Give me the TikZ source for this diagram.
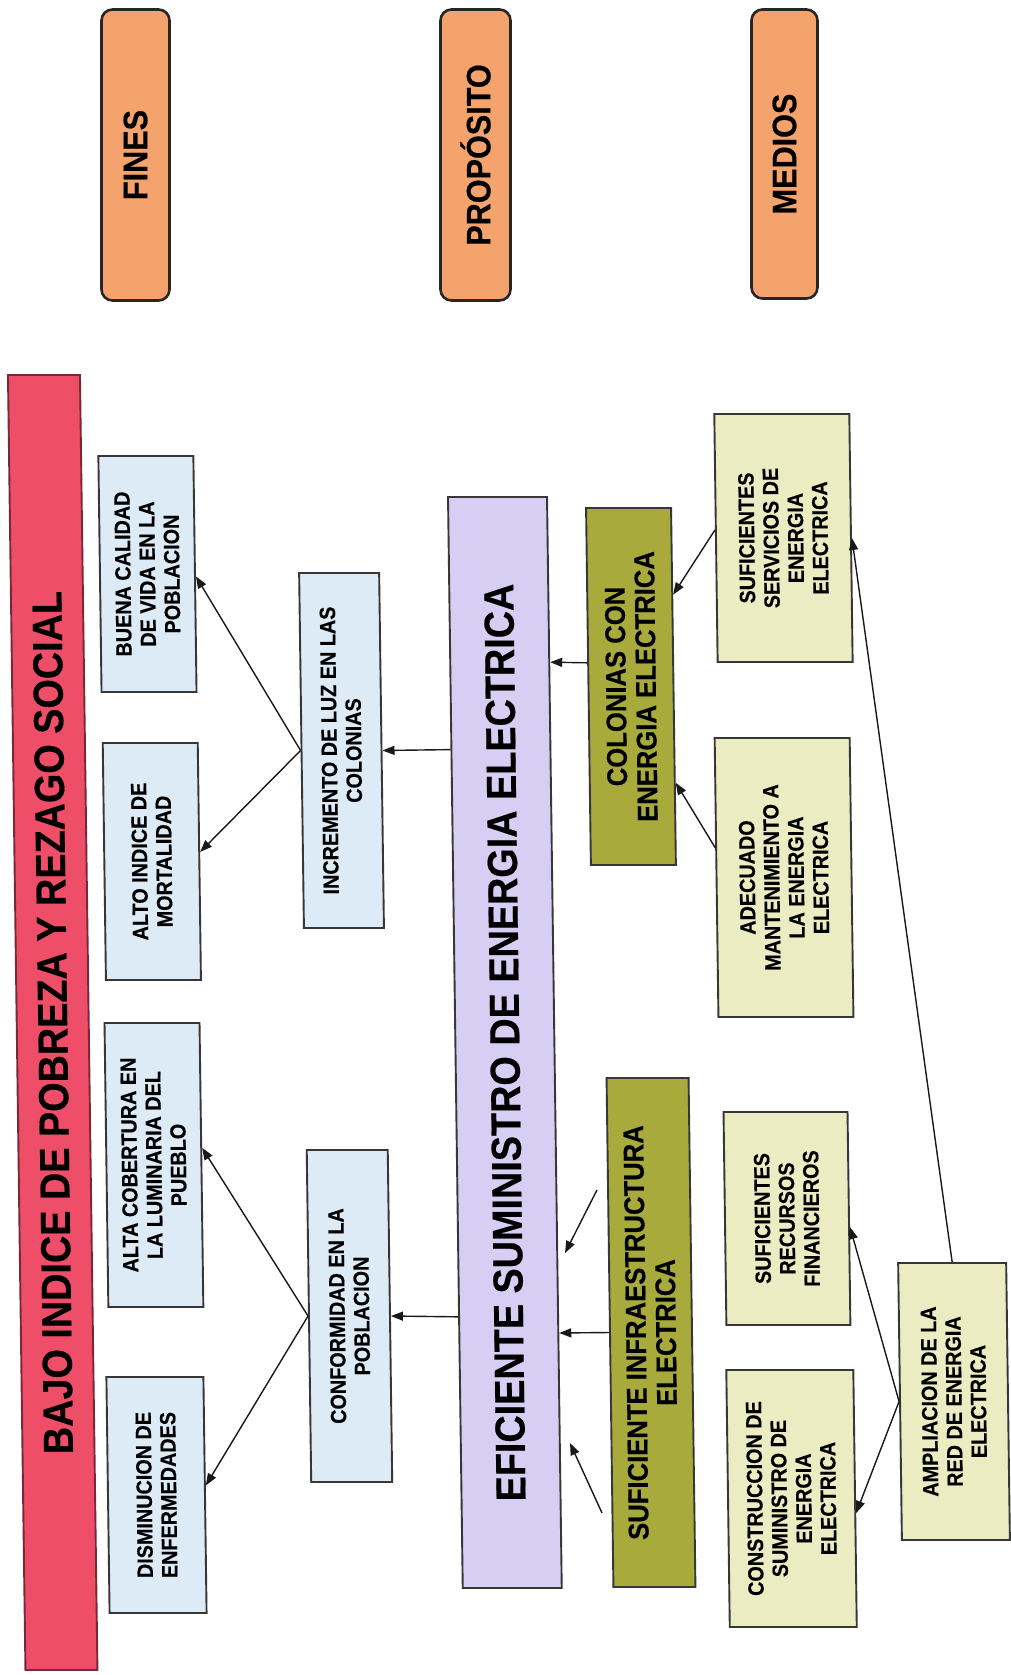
\documentclass[tikz,border=0pt]{standalone}
\usepackage{fontspec}
\setmainfont{Liberation Sans}[FakeStretch=0.9, BoldFeatures={FakeBold=0.4}]
\usetikzlibrary{calc,arrows.meta}
\definecolor{orangeH}{RGB}{245,163,108}
\definecolor{redB}{RGB}{239,78,104}
\definecolor{redE}{RGB}{120,40,55}
\definecolor{blueB}{RGB}{221,235,246}
\definecolor{lavB}{RGB}{215,207,243}
\definecolor{oliveB}{RGB}{168,171,60}
\definecolor{yelB}{RGB}{235,236,194}
\definecolor{edgeC}{RGB}{55,55,55}
\begin{document}
\begin{tikzpicture}[x=1pt,y=-1pt,
  hdr/.style={draw=black!85, line width=2.6pt, rounded corners=11pt, fill=orangeH, rotate=90, inner sep=0pt, font=\fontsize{34}{38}\selectfont\bfseries},
  bx/.style={draw=edgeC, line width=1.9pt, rotate=90, transform shape, inner sep=0pt, align=center, text=black, font=\fontsize{22}{24.5}\selectfont\bfseries},
  bigtxt/.style={font=\fontsize{42}{46}\selectfont\bfseries},
  midtxt/.style={font=\fontsize{28.5}{30}\selectfont\bfseries},
  arr/.style={draw=black!90, line width=1.4pt, -{Triangle[length=12pt,width=9pt]}},
  sz/.style 2 args={minimum width=#1, minimum height=#2}
]
\fill[white] (0,0) rectangle (1011,1675);
\useasboundingbox (0,0) rectangle (1011,1675);

% headers
\node[hdr, sz={291pt}{68pt}] (fines) at (135.5,155) {FINES};
\node[hdr, sz={291pt}{70pt}] (prop) at (475.5,155) {PROPÓSITO};
\node[hdr, sz={289pt}{66pt}] (medios) at (784.5,154) {MEDIOS};

\begin{scope}[cm={1,0,-0.0135,1,(-11.3pt,0pt)}]
% fines
\node[bx, fill=redB, draw=redE, bigtxt, sz={1295pt}{72pt}] (bajo) at (50.2,1022.5) {BAJO INDICE DE POBREZA Y REZAGO SOCIAL};
\node[bx, fill=blueB, sz={236pt}{95pt}] (buena) at (151,574) {BUENA CALIDAD\\DE VIDA EN LA\\POBLACION};
\node[bx, fill=blueB, sz={237pt}{95pt}] (alto) at (151.5,861.5) {ALTO INDICE DE\\MORTALIDAD};
\node[bx, fill=blueB, sz={284pt}{95pt}] (alta) at (149.5,1165) {ALTA COBERTURA EN\\LA LUMINARIA DEL\\PUEBLO};
\node[bx, fill=blueB, sz={236pt}{97pt}] (dism) at (147.6,1495) {DISMINUCION DE\\ENFERMEDADES};
\node[bx, fill=blueB, sz={355pt}{80pt}] (inc) at (342.7,750.5) {INCREMENTO DE LUZ EN LAS\\COLONIAS};
\node[bx, fill=blueB, sz={332pt}{81pt}] (conf) at (343,1316) {CONFORMIDAD EN LA\\POBLACION};
% proposito
\node[bx, fill=lavB, bigtxt, sz={1091pt}{99pt}] (pur) at (502.1,1042.5) {EFICIENTE SUMINISTRO DE ENERGIA ELECTRICA};
% medios
\node[bx, fill=oliveB, midtxt, sz={357pt}{85pt}] (col) at (633,686.5) {COLONIAS CON\\ENERGIA ELECTRICA};
\node[bx, fill=oliveB, midtxt, sz={509pt}{82pt}] (inf) at (644.3,1332.5) {SUFICIENTE INFRAESTRUCTURA\\ELECTRICA};
\node[bx, fill=yelB, sz={248pt}{135pt}] (serv) at (787.5,538) {SUFICIENTES\\SERVICIOS DE\\ENERGIA\\ELECTRICA};
\node[bx, fill=yelB, sz={279pt}{135pt}] (ade) at (783.5,877.5) {ADECUADO\\MANTENIMIENTO A\\LA ENERGIA\\ELECTRICA};
\node[bx, fill=yelB, sz={213pt}{124pt}] (rec) at (781.8,1218.5) {SUFICIENTES\\RECURSOS\\FINANCIEROS};
\node[bx, fill=yelB, sz={257pt}{127pt}] (cons) at (782.6,1498.5) {CONSTRUCCION DE\\SUMINISTRO DE\\ENERGIA\\ELECTRICA};
\node[bx, fill=yelB, sz={277pt}{108pt}] (amp) at (946.4,1401.5) {AMPLIACION DE LA\\RED DE ENERGIA\\ELECTRICA};

% connectors
\draw[arr] (inc.north) -- ($(buena.south west)!0.49!(buena.south east)$);
\draw[arr] (inc.north) -- ($(alto.south west)!0.54!(alto.south east)$);
\draw[arr] ($(pur.north west)!0.768!(pur.north east)$) -- (inc.south);
\draw[arr] (conf.north) -- ($(alta.south west)!0.56!(alta.south east)$);
\draw[arr] (conf.north) -- ($(dism.south west)!0.54!(dism.south east)$);
\draw[arr] ($(pur.north west)!0.249!(pur.north east)$) -- (conf.south);
\draw[arr] ($(col.north west)!0.566!(col.north east)$) -- ($(pur.south west)!0.848!(pur.south east)$);
\draw[arr] (inf.north) -- ($(pur.south west)!0.2342!(pur.south east)$);
\coordinate (d1s) at (592.2,1190);
\coordinate (d1e) at (559.4,1253);
\coordinate (d2s) at (592.9,1513);
\coordinate (d2e) at (561.8,1443);
\draw[arr] (d1s) -- (d1e);
\draw[arr] (d2s) -- (d2e);
\draw[arr] ($(serv.north west)!0.532!(serv.north east)$) -- ($(col.south west)!0.756!(col.south east)$);
\draw[arr] ($(ade.north west)!0.606!(ade.north east)$) -- ($(col.south west)!0.232!(col.south east)$);
\draw[arr] (amp.east) -- (serv.south);
\draw[arr] (amp.north) -- ($(rec.south west)!0.46!(rec.south east)$);
\draw[arr] (amp.north) -- ($(cons.south west)!0.444!(cons.south east)$);
\end{scope}
\end{tikzpicture}
\end{document}
